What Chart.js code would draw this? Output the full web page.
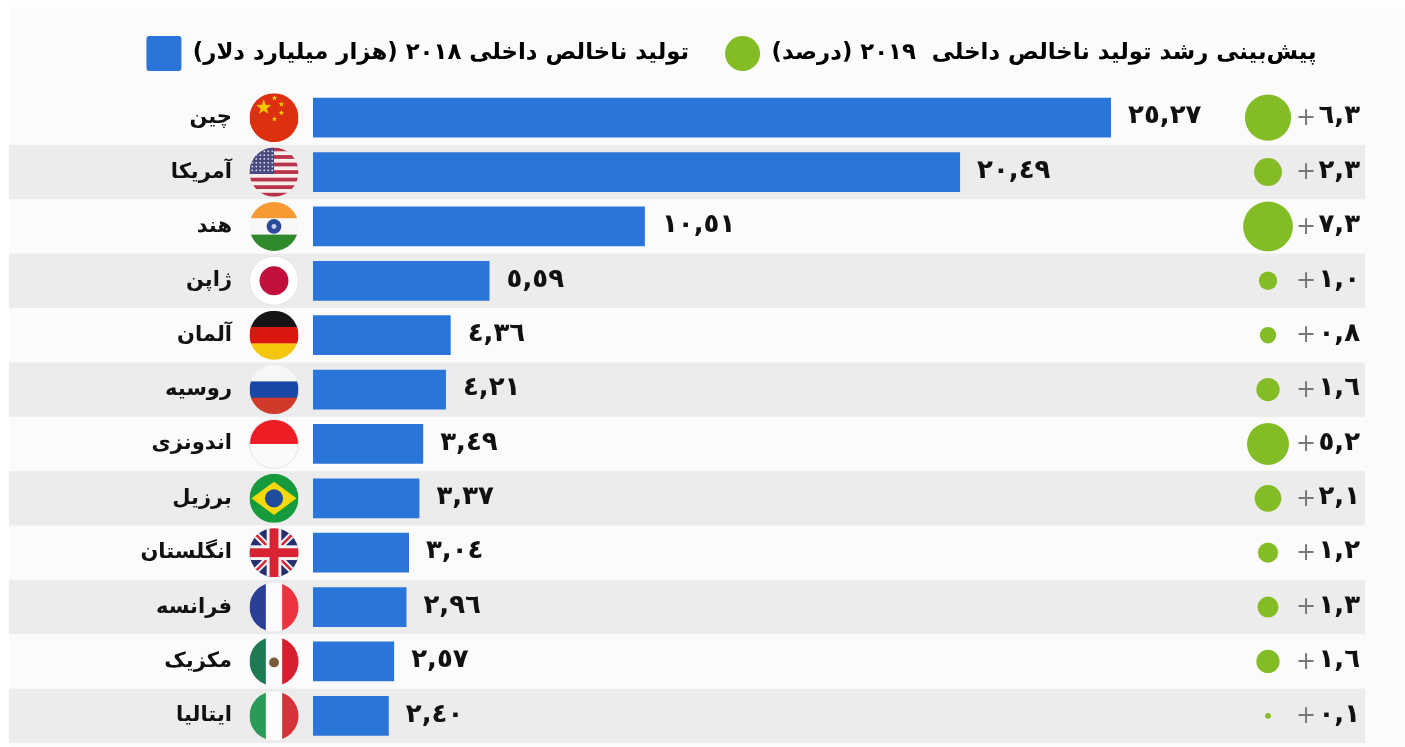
<!DOCTYPE html>
<html lang="fa">
<head>
<meta charset="utf-8">
<title>GDP</title>
<script src="https://cdn.jsdelivr.net/npm/chart.js@4"></script>
<style>
  html, body { margin: 0; padding: 0; background: #ffffff; }
  #wrap { width: 1405px; height: 747px; position: relative; }
</style>
</head>
<body>
<div id="wrap"><canvas id="gdpChart"></canvas></div>
<script>
const countries = ['چین', 'آمریکا', 'هند', 'ژاپن', 'آلمان', 'روسیه', 'اندونزی', 'برزیل', 'انگلستان', 'فرانسه', 'مکزیک', 'ایتالیا'];
const flags = ['cn', 'us', 'in', 'jp', 'de', 'ru', 'id', 'br', 'gb', 'fr', 'mx', 'it'];
const gdp2018 = [25.27, 20.49, 10.51, 5.59, 4.36, 4.21, 3.49, 3.37, 3.04, 2.96, 2.57, 2.40];
const growth2019 = [6.3, 2.3, 7.3, 1.0, 0.8, 1.6, 5.2, 2.1, 1.2, 1.3, 1.6, 0.1];
const gdpLabel = 'تولید ناخالص داخلی ٢٠١٨ (هزار میلیارد دلار)';
const growthLabel = 'پیش‌بینی رشد تولید ناخالص داخلی  ٢٠١٩ (درصد)';

const BLUE = '#2b75d9';
const GREEN = '#84bc25';
const FONT = '"DejaVu Sans"';
const PX_PER_UNIT = 31.58;
const GROWTH_X = (1268 - 313) / PX_PER_UNIT; // column of the growth bubbles, in x units

function faNumber(v, decimals) {
    return v.toFixed(decimals).replace(/\d/g, d => '٠١٢٣٤٥٦٧٨٩'[d]).replace('.', ',');
}

function stripesH(c, x, y, r, cols) {
    const h = 2 * r / cols.length;
    cols.forEach((col, i) => { c.fillStyle = col; c.fillRect(x - r, y - r + i * h, 2 * r, h + 0.5); });
}
function stripesV(c, x, y, r, cols) {
    const w = 2 * r / cols.length;
    cols.forEach((col, i) => { c.fillStyle = col; c.fillRect(x - r + i * w, y - r, w + 0.5, 2 * r); });
}
function star(c, x, y, r) {
    c.beginPath();
    for (let i = 0; i < 10; i++) {
        const a = -Math.PI / 2 + i * Math.PI / 5, q = i % 2 ? r * 0.42 : r;
        c.lineTo(x + q * Math.cos(a), y + q * Math.sin(a));
    }
    c.closePath();
    c.fill();
}

const flagDraw = {
    cn(c, x, y, r) {
        c.fillStyle = '#dd3011'; c.fillRect(x - r, y - r, 2 * r, 2 * r);
        c.fillStyle = '#f7c400';
        star(c, x - r * 0.42, y - r * 0.42, r * 0.32);
        [[0.02, -0.8], [0.3, -0.55], [0.3, -0.2], [0.02, 0.05]].forEach(p => star(c, x + p[0] * r, y + p[1] * r, r * 0.12));
    },
    us(c, x, y, r) {
        const cols = [];
        for (let i = 0; i < 13; i++) cols.push(i % 2 ? '#f4f0f0' : '#b8344a');
        stripesH(c, x, y, r, cols);
        c.fillStyle = '#47497f'; c.fillRect(x - r, y - r, r * 1.0, r * 1.08);
        c.fillStyle = '#d8d8e6';
        for (let i = 0; i < 6; i++) for (let j = 0; j < 6; j++) c.fillRect(x - r + 2 + j * 4, y - r + 3 + i * 3.8, 1.6, 1.6);
    },
    in(c, x, y, r) {
        stripesH(c, x, y, r, ['#f79a33', '#f8f8f8', '#2f8a2b']);
        c.fillStyle = '#2a4a9a'; c.beginPath(); c.arc(x, y, r * 0.3, 0, 7); c.fill();
        c.fillStyle = '#c8d0e8'; c.beginPath(); c.arc(x, y, r * 0.1, 0, 7); c.fill();
    },
    jp(c, x, y, r) {
        c.fillStyle = '#ffffff'; c.fillRect(x - r, y - r, 2 * r, 2 * r);
        c.fillStyle = '#c2103c'; c.beginPath(); c.arc(x, y, r * 0.59, 0, 7); c.fill();
    },
    de(c, x, y, r) { stripesH(c, x, y, r, ['#151515', '#d9170f', '#f6c60c']); },
    ru(c, x, y, r) { stripesH(c, x, y, r, ['#f7f7f7', '#1947a8', '#cf3a2a']); },
    id(c, x, y, r) { stripesH(c, x, y, r, ['#ee1c25', '#fafafa']); },
    br(c, x, y, r) {
        c.fillStyle = '#169b3c'; c.fillRect(x - r, y - r, 2 * r, 2 * r);
        c.fillStyle = '#f5d90a';
        c.beginPath(); c.moveTo(x - r * 0.92, y); c.lineTo(x, y - r * 0.68); c.lineTo(x + r * 0.92, y); c.lineTo(x, y + r * 0.68); c.closePath(); c.fill();
        c.fillStyle = '#1f4d9c'; c.beginPath(); c.arc(x, y, r * 0.37, 0, 7); c.fill();
    },
    gb(c, x, y, r) {
        c.fillStyle = '#26306e'; c.fillRect(x - r, y - r, 2 * r, 2 * r);
        c.strokeStyle = '#f4f4f4'; c.lineWidth = r * 0.26;
        c.beginPath(); c.moveTo(x - r, y - r); c.lineTo(x + r, y + r); c.moveTo(x + r, y - r); c.lineTo(x - r, y + r); c.stroke();
        c.strokeStyle = '#d92332'; c.lineWidth = r * 0.1;
        c.beginPath(); c.moveTo(x - r, y - r); c.lineTo(x + r, y + r); c.moveTo(x + r, y - r); c.lineTo(x - r, y + r); c.stroke();
        c.fillStyle = '#f4f4f4'; c.fillRect(x - r, y - r * 0.3, 2 * r, r * 0.6); c.fillRect(x - r * 0.3, y - r, r * 0.6, 2 * r);
        c.fillStyle = '#d92332'; c.fillRect(x - r, y - r * 0.18, 2 * r, r * 0.36); c.fillRect(x - r * 0.18, y - r, r * 0.36, 2 * r);
    },
    fr(c, x, y, r) { stripesV(c, x, y, r, ['#2b3f96', '#fbfbfb', '#ee3340']); },
    mx(c, x, y, r) {
        stripesV(c, x, y, r, ['#1d7a52', '#fbfbfb', '#d6202f']);
        c.fillStyle = '#7a5a3a'; c.beginPath(); c.arc(x, y + 1, r * 0.2, 0, 7); c.fill();
    },
    it(c, x, y, r) { stripesV(c, x, y, r, ['#2b9a58', '#fbfbfb', '#d5333c']); }
};

// panel and grey rows, behind everything else
const rowBands = {
    id: 'rowBands',
    afterLayout(chart) {
        // the layout pushes the legend down against the rows, keep it at the top
        chart.legend.top = 0;
        chart.legend.bottom = chart.legend.height;
    },
    beforeDraw(chart) {
        const c = chart.ctx, ys = chart.scales.y;
        const step = ys.getPixelForTick(1) - ys.getPixelForTick(0);
        c.save();
        c.fillStyle = '#fbfbfb';
        c.fillRect(9, 7, 1396, 740);
        c.fillStyle = '#ececec';
        countries.forEach((name, i) => {
            if (i % 2 === 1) c.fillRect(9, ys.getPixelForTick(i) - step / 2, 1356, step);
        });
        c.restore();
    }
};

// flags, value labels, growth labels
const rowExtras = {
    id: 'rowExtras',
    afterDatasetsDraw(chart) {
        const c = chart.ctx, ys = chart.scales.y, xs = chart.scales.x;
        const bars = chart.getDatasetMeta(1).data;
        c.save();
        flags.forEach((code, i) => {
            const y = ys.getPixelForTick(i), x = xs.left - 39, r = 24.5;
            c.save();
            c.beginPath(); c.arc(x, y, r, 0, Math.PI * 2); c.clip();
            flagDraw[code](c, x, y, r);
            c.restore();
            if (code === 'jp' || code === 'id') {
                c.strokeStyle = '#e4e4e4'; c.lineWidth = 1;
                c.beginPath(); c.arc(x, y, r, 0, Math.PI * 2); c.stroke();
            }
        });
        c.textBaseline = 'middle';
        c.fillStyle = '#111111';
        c.font = 'bold 26px ' + FONT;
        c.textAlign = 'left';
        gdp2018.forEach((v, i) => {
            c.fillText(faNumber(v, 2), bars[i].x + 17, ys.getPixelForTick(i) - 1);
        });
        growth2019.forEach((v, i) => {
            const y = ys.getPixelForTick(i);
            c.textAlign = 'right';
            c.fillStyle = '#111111';
            c.font = 'bold 26px ' + FONT;
            c.fillText(faNumber(v, 1), 1360, y - 1);
            c.textAlign = 'center';
            c.fillStyle = '#777777';
            c.font = '24px ' + FONT;
            c.fillText('+', 1306, y + 1);
        });
        c.restore();
    }
};

new Chart(document.getElementById('gdpChart'), {
    data: {
        labels: countries,
        datasets: [
            {
                type: 'bubble',
                label: growthLabel,
                data: growth2019.map((v, i) => ({ x: GROWTH_X, y: countries[i], r: 9.2 * Math.sqrt(v) })),
                backgroundColor: GREEN,
                borderWidth: 0,
                hoverRadius: 0,
                clip: false
            },
            {
                type: 'bar',
                label: gdpLabel,
                indexAxis: 'y',
                data: gdp2018,
                backgroundColor: BLUE,
                categoryPercentage: 1,
                barPercentage: 0.73
            }
        ]
    },
    options: {
        responsive: true,
        maintainAspectRatio: false,
        animation: false,
        layout: { autoPadding: false, padding: { top: 0, bottom: 0, left: 58, right: 0 } },
        scales: {
            x: {
                type: 'linear',
                min: 0,
                max: (1405 - 313) / PX_PER_UNIT,
                display: false
            },
            y: {
                type: 'category',
                offset: true,
                afterFit(scale) {
                    scale.width = 313 - 58;
                    scale.paddingTop = 90.5; // legend alone leaves too little room above the rows
                    scale.paddingBottom = 4;
                },
                // tick padding would also pad the axis top and bottom, so push labels with the tick length
                grid: { display: false, drawTicks: true, tickLength: 81 },
                border: { display: false },
                ticks: {
                    padding: 0,
                    color: '#111111',
                    font: { family: FONT, size: 21, weight: 'bold' }
                }
            }
        },
        plugins: {
            tooltip: { enabled: false },
            legend: {
                display: true,
                position: 'top',
                padding: 0,
                textDirection: 'rtl',
                labels: {
                    color: '#111111',
                    font: { family: FONT, size: 22.8, weight: 'bold' },
                    boxWidth: 35,
                    boxHeight: 35,
                    padding: 36,
                    useBorderRadius: true,
                    generateLabels() {
                        return [
                            { text: gdpLabel, fillStyle: BLUE, strokeStyle: BLUE, lineWidth: 0, borderRadius: 3, datasetIndex: 1 },
                            { text: growthLabel, fillStyle: GREEN, strokeStyle: GREEN, lineWidth: 0, borderRadius: 17.5, datasetIndex: 0 }
                        ];
                    }
                }
            }
        }
    },
    plugins: [rowBands, rowExtras]
});
</script>
</body>
</html>
